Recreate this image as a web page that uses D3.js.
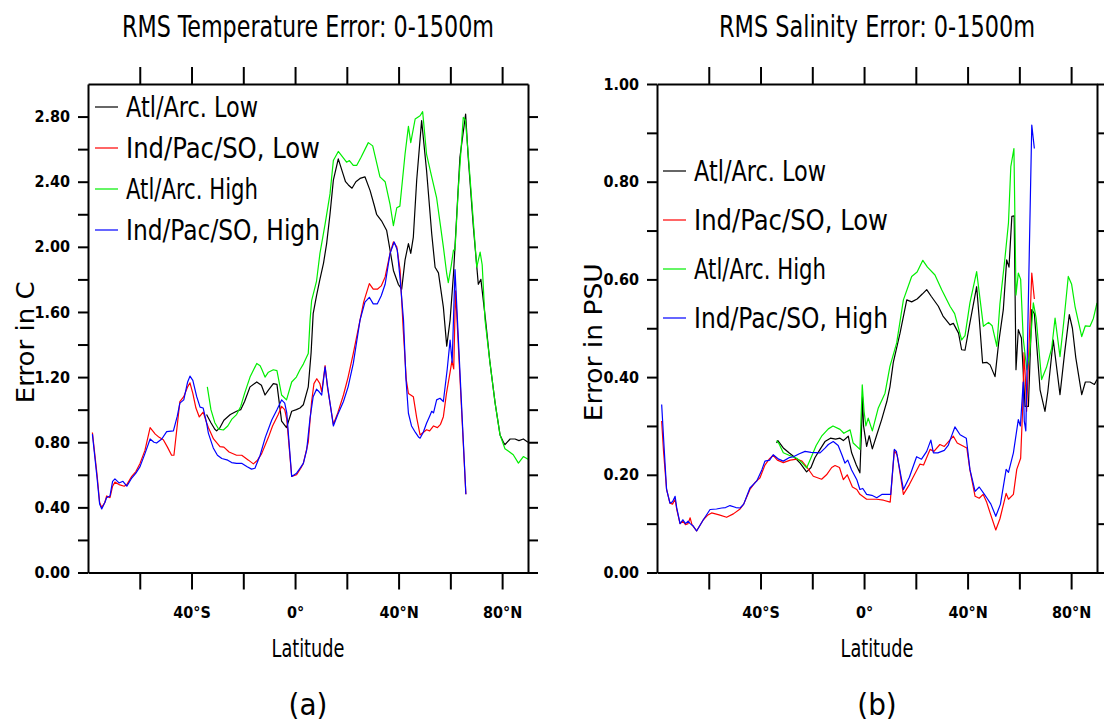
<!DOCTYPE html>
<html>
<head>
<meta charset="utf-8">
<script src="https://cdn.jsdelivr.net/npm/d3@7"></script>
<style>
  html, body { margin: 0; padding: 0; background: #fff; }
  svg { display: block; }
  text { font-family: "Liberation Sans Narrow", "DejaVu Sans Condensed", "DejaVu Sans", sans-serif; fill: #000; }
  .tick text { font-weight: bold; font-size: 16px; }
  .domain, .tick line { stroke: #000; stroke-width: 2px; }
</style>
</head>
<body>
<svg id="chart" width="1104" height="724"></svg>
<script>
// ── Data: [latitude, value] pairs ──────────────────────────────────────────

// Panel (a): RMS temperature error (°C)
const tempAtlLow = [
  [-34.2, 0.97], [-32.5, 0.92], [-31, 0.88], [-30.3, 0.87], [-29, 0.89], [-27.5, 0.935],
  [-25, 0.97], [-22.6, 0.99], [-21, 1.0], [-19.5, 1.05], [-17.4, 1.14], [-14.8, 1.17],
  [-13, 1.15], [-11.6, 1.09], [-10.3, 1.12], [-8.4, 1.16], [-7, 1.155], [-5.2, 0.93],
  [-3.3, 0.89], [-1.3, 0.99], [0.5, 1.0], [1.9, 1.01], [3.2, 1.03], [5.1, 1.14], [6.2, 1.35],
  [7, 1.59], [8.3, 1.7], [9.6, 1.8], [11, 1.9], [12.2, 2.02], [13.5, 2.2], [14.8, 2.41],
  [16.7, 2.54], [18.5, 2.45], [19.5, 2.4], [20.6, 2.38], [22, 2.36], [23.5, 2.4], [25.1, 2.42],
  [27, 2.43], [29, 2.345], [30.5, 2.26], [31.5, 2.2], [33.4, 2.16], [35.4, 2.1], [36.7, 1.98],
  [38, 1.855], [39.9, 1.77], [41.2, 1.74], [42.5, 1.92], [43.8, 2.02], [44.7, 1.96], [45.7, 2.06],
  [47, 2.41], [48.9, 2.775], [50.8, 2.47], [52.8, 2.08], [54.1, 1.875], [55.4, 1.84], [57.3, 1.63],
  [58.6, 1.39], [59.9, 1.55], [61.2, 1.83], [63.7, 2.55], [65.9, 2.815], [66.9, 2.55], [68.9, 2.12],
  [70.8, 1.77], [71.8, 1.8], [73.6, 1.55], [75.3, 1.29], [77.3, 1.04], [79.2, 0.845], [80.5, 0.8],
  [81.1, 0.785], [83.1, 0.82], [85, 0.82], [86.5, 0.81], [88.2, 0.82], [90, 0.8]
];
const tempIndPacLow = [
  [-78.3, 0.86], [-76.5, 0.6], [-75.5, 0.43], [-74.7, 0.4], [-73.5, 0.43], [-72.8, 0.47],
  [-71.5, 0.46], [-70.5, 0.53], [-69.6, 0.555], [-68, 0.54], [-66, 0.53], [-65, 0.54],
  [-63.1, 0.59], [-61.5, 0.62], [-59.9, 0.67], [-58, 0.75], [-56, 0.89], [-54, 0.85],
  [-52.5, 0.83], [-50.9, 0.815], [-49.3, 0.77], [-47.7, 0.72], [-46.8, 0.72], [-44.5, 1.05],
  [-43, 1.08], [-41.5, 1.14], [-40.6, 1.165], [-39.5, 1.1], [-38.3, 1.01], [-37, 0.955],
  [-35.5, 0.985], [-34.2, 0.92], [-33.5, 0.89], [-31.5, 0.82], [-29, 0.773], [-27.5, 0.77],
  [-25.5, 0.74], [-22.6, 0.72], [-20.6, 0.72], [-18, 0.69], [-16.1, 0.667], [-14.5, 0.69],
  [-12.9, 0.73], [-10.3, 0.83], [-8.7, 0.9], [-6.5, 0.97], [-5.2, 1.02], [-4, 1.0], [-3.2, 0.94],
  [-1.3, 0.59], [0.6, 0.6], [2.2, 0.64], [3.2, 0.67], [5.1, 0.8], [6.4, 1.05], [7.3, 1.16],
  [8.4, 1.19], [9.6, 1.16], [10.3, 1.11], [11.6, 1.27], [12.5, 1.14], [14.8, 0.91], [16.5, 0.98],
  [18.7, 1.09], [20.5, 1.2], [22.5, 1.345], [25.1, 1.55], [26.5, 1.66], [28.7, 1.774], [30.2, 1.74],
  [31.8, 1.74], [33.3, 1.76], [34.8, 1.815], [36.7, 1.96], [38, 2.03], [39.3, 2.0], [40.6, 1.855],
  [41.8, 1.49], [43, 1.18], [43.8, 1.1], [45.7, 1.08], [47, 0.95], [48.3, 0.845], [49.5, 0.86],
  [50.8, 0.877], [52, 0.87], [53.5, 0.9], [55, 0.89], [56.2, 0.91], [57.3, 0.957], [58.5, 1.1],
  [59.9, 1.23], [60.6, 1.3], [61.3, 1.25], [62, 1.73], [66, 0.48]
];
const tempAtlHigh = [
  [-33.9, 1.14], [-32.5, 1.0], [-31, 0.92], [-29.5, 0.88], [-27.7, 0.875], [-26, 0.9],
  [-24.5, 0.94], [-22.6, 0.97], [-21, 1.02], [-19.5, 1.1], [-17.4, 1.2], [-14.8, 1.284],
  [-13.5, 1.27], [-12.9, 1.25], [-11.6, 1.2], [-10.3, 1.23], [-8.4, 1.245], [-7, 1.24],
  [-5.2, 1.09], [-3.3, 1.06], [-1.3, 1.17], [0.5, 1.2], [1.9, 1.245], [3.2, 1.28], [5.1, 1.345],
  [5.8, 1.55], [6.4, 1.67], [8.3, 1.79], [9.6, 1.958], [11.6, 2.14], [13.5, 2.325], [14.8, 2.53],
  [16.7, 2.586], [18.5, 2.55], [19.9, 2.52], [21, 2.53], [22.5, 2.5], [23.8, 2.5], [25.5, 2.55],
  [28.3, 2.64], [30, 2.62], [32.8, 2.43], [34.8, 2.4], [36.7, 2.26], [38, 2.13], [39.3, 2.24],
  [40.5, 2.25], [42.5, 2.57], [43.8, 2.74], [44.7, 2.64], [46.4, 2.785], [48.3, 2.805], [49.3, 2.83],
  [50.8, 2.57], [52.8, 2.43], [54.7, 2.3], [56, 2.15], [57.3, 2.0], [58.6, 1.835], [59.2, 1.78],
  [60.3, 1.88], [61.2, 1.98], [61.8, 1.98], [63.1, 2.365], [65, 2.795], [65.8, 2.78], [66.9, 2.57],
  [68.2, 2.3], [70.2, 1.875], [71.5, 1.967], [72.3, 1.89], [73.4, 1.55], [75.3, 1.29], [77.3, 1.04],
  [79.2, 0.845], [81.1, 0.76], [82.5, 0.745], [84.3, 0.723], [86.3, 0.672], [88.2, 0.712], [90, 0.696]
];
const tempIndPacHigh = [
  [-78.3, 0.85], [-76.5, 0.58], [-75.5, 0.42], [-74.7, 0.39], [-73.5, 0.43], [-72.8, 0.46],
  [-71.5, 0.47], [-70.5, 0.56], [-69.6, 0.575], [-68, 0.55], [-66.5, 0.56], [-65, 0.53],
  [-63.1, 0.58], [-61.5, 0.61], [-59.9, 0.65], [-58, 0.73], [-56, 0.82], [-54.5, 0.8],
  [-53.5, 0.795], [-51.5, 0.82], [-49.6, 0.865], [-47, 0.87], [-45.5, 0.96], [-44.5, 1.04],
  [-43, 1.06], [-41.5, 1.17], [-40.6, 1.206], [-39.5, 1.18], [-38, 1.08], [-36.7, 1.016],
  [-35.5, 1.01], [-34.2, 0.92], [-33.5, 0.856], [-31.6, 0.765], [-30, 0.72], [-28.3, 0.7],
  [-26, 0.69], [-24.5, 0.675], [-22.6, 0.67], [-20.5, 0.67], [-18.5, 0.65], [-16.8, 0.635],
  [-15.5, 0.64], [-13.5, 0.72], [-11.5, 0.83], [-9, 0.937], [-7, 1.0], [-5.2, 1.06], [-4, 1.04],
  [-3.2, 0.98], [-1.3, 0.59], [0.6, 0.61], [1.9, 0.64], [3.2, 0.67], [4.5, 0.753], [5.8, 0.95],
  [7, 1.08], [8.3, 1.126], [9.3, 1.11], [10.3, 1.09], [11.6, 1.263], [12.5, 1.15], [14.8, 0.9],
  [16.5, 0.97], [18.7, 1.05], [20.5, 1.14], [22.5, 1.284], [25.1, 1.55], [27, 1.66], [28.7, 1.69],
  [30.2, 1.65], [31.8, 1.65], [33.3, 1.7], [34.8, 1.77], [36.7, 1.96], [38.3, 2.03], [39.5, 1.98],
  [40.6, 1.8], [41.9, 1.55], [42.8, 1.2], [43.8, 0.978], [45, 0.9], [46.5, 0.86], [47.8, 0.83],
  [48.3, 0.825], [49.5, 0.86], [50.8, 0.917], [52, 0.96], [52.8, 0.99], [53.5, 0.98], [54.7, 1.06],
  [56, 1.07], [57.3, 1.05], [58.8, 1.25], [59.9, 1.427], [60.7, 1.29], [61.8, 1.86], [66, 0.48]
];

// Panel (b): RMS salinity error (PSU)
const salAtlLow = [
  [-33.8, 0.265], [-33.3, 0.27], [-31.2, 0.255], [-29, 0.245], [-27.3, 0.238], [-24.7, 0.224],
  [-22.2, 0.206], [-20.5, 0.215], [-19, 0.235], [-17, 0.252], [-15.1, 0.268], [-13, 0.275],
  [-11, 0.273], [-9.3, 0.275], [-8, 0.27], [-6.1, 0.279], [-4.8, 0.245], [-3, 0.22], [-1.6, 0.204],
  [-1, 0.29], [-0.6, 0.36], [-0.2, 0.3], [1, 0.258], [2, 0.28], [3.2, 0.253], [4.8, 0.28],
  [6.8, 0.313], [8.8, 0.35], [10, 0.38], [11.3, 0.43], [13.9, 0.49], [16.5, 0.558], [18.4, 0.554],
  [20.5, 0.56], [22.5, 0.57], [24.2, 0.579], [26, 0.565], [28.7, 0.545], [30.5, 0.525], [33.2, 0.507],
  [34.5, 0.51], [36.5, 0.49], [37.7, 0.456], [39, 0.455], [40.9, 0.511], [43.5, 0.585], [44.5, 0.52],
  [45.8, 0.429], [47.5, 0.43], [48.7, 0.425], [50.6, 0.401], [52, 0.47], [53.8, 0.538], [55.1, 0.64],
  [56, 0.625], [57.1, 0.729], [58, 0.73], [58.7, 0.415], [59.6, 0.497], [60.8, 0.48], [62.2, 0.34],
  [63.5, 0.34], [64.8, 0.538], [65.8, 0.53], [68, 0.374], [69.9, 0.33], [71, 0.37], [73.1, 0.476],
  [75.7, 0.364], [77.5, 0.45], [79.3, 0.528], [80.5, 0.5], [81.8, 0.44], [84.1, 0.364], [85.5, 0.39],
  [87.3, 0.39], [89, 0.385], [90, 0.395]
];
const salIndPacLow = [
  [-78.2, 0.31], [-77.5, 0.25], [-76.3, 0.17], [-75, 0.142], [-74, 0.14], [-73, 0.15],
  [-72.4, 0.13], [-71.1, 0.1], [-70, 0.105], [-69, 0.098], [-68, 0.1], [-67.2, 0.112],
  [-66.5, 0.098], [-64.7, 0.085], [-62.1, 0.108], [-60.5, 0.117], [-58.9, 0.122], [-56, 0.118],
  [-53.1, 0.113], [-50.5, 0.12], [-47.9, 0.13], [-46.5, 0.14], [-44.1, 0.17], [-42, 0.185],
  [-40.2, 0.194], [-38.3, 0.22], [-36.5, 0.233], [-35.1, 0.24], [-33.5, 0.23], [-31.2, 0.225],
  [-28.5, 0.23], [-26, 0.232], [-24, 0.228], [-22, 0.215], [-19.6, 0.197], [-16.4, 0.191],
  [-14.5, 0.2], [-12.5, 0.215], [-11.2, 0.219], [-9.5, 0.215], [-8, 0.19], [-6.5, 0.2],
  [-4.5, 0.175], [-2.8, 0.17], [-1.6, 0.16], [1, 0.15], [4.9, 0.15], [7.5, 0.148], [10.1, 0.144],
  [11.7, 0.25], [12.8, 0.24], [15.2, 0.16], [17.5, 0.18], [21.6, 0.222], [23, 0.22], [25.5, 0.252],
  [27, 0.248], [29.3, 0.262], [31, 0.258], [34.5, 0.279], [36, 0.265], [39.7, 0.255], [40.9, 0.21],
  [42.9, 0.156], [44.5, 0.152], [46, 0.16], [47.3, 0.145], [48.7, 0.122], [50.9, 0.087],
  [52.5, 0.11], [54.9, 0.162], [55.8, 0.15], [57.7, 0.16], [59, 0.211], [60.5, 0.234], [61.3, 0.34],
  [61.8, 0.45], [62.3, 0.4], [62.8, 0.33], [64.8, 0.613], [65.8, 0.56]
];
const salAtlHigh = [
  [-33.8, 0.27], [-33, 0.265], [-31.2, 0.245], [-29, 0.24], [-26, 0.234], [-24, 0.225],
  [-22.2, 0.214], [-20.5, 0.235], [-18.5, 0.26], [-16.4, 0.279], [-13.8, 0.294], [-12, 0.3],
  [-9.3, 0.293], [-7.8, 0.285], [-6.8, 0.288], [-5.4, 0.292], [-4.2, 0.265], [-1.6, 0.252],
  [-0.7, 0.384], [0, 0.33], [0.7, 0.3], [1.6, 0.316], [3.2, 0.29], [5.5, 0.337], [8.1, 0.367],
  [10, 0.422], [12.6, 0.47], [15.2, 0.558], [18.4, 0.606], [20.5, 0.615], [22.7, 0.639],
  [24.5, 0.625], [27.4, 0.609], [30, 0.579], [33.2, 0.545], [35, 0.53], [37.7, 0.476], [39, 0.485],
  [40.9, 0.552], [43.5, 0.616], [44.8, 0.56], [46.1, 0.504], [48.1, 0.512], [49.5, 0.505],
  [51.3, 0.463], [52.5, 0.55], [54.5, 0.647], [55.8, 0.716], [56.7, 0.831], [57.9, 0.868],
  [58.7, 0.568], [59.6, 0.613], [60.5, 0.6], [61.5, 0.479], [62.9, 0.415], [64, 0.45], [65.4, 0.552],
  [66.5, 0.52], [68.6, 0.395], [70.5, 0.42], [72.5, 0.459], [73.8, 0.521], [75.7, 0.442],
  [77.3, 0.52], [78.9, 0.606], [80.2, 0.59], [81.5, 0.545], [84.1, 0.483], [85.5, 0.505],
  [87.3, 0.504], [88.6, 0.52], [90, 0.552]
];
const salIndPacHigh = [
  [-78.2, 0.344], [-77.3, 0.26], [-76.3, 0.17], [-75, 0.142], [-74, 0.145], [-73, 0.156],
  [-72.4, 0.133], [-71.1, 0.1], [-70, 0.108], [-69, 0.1], [-68, 0.105], [-67.2, 0.1], [-66, 0.095],
  [-64.7, 0.085], [-62.1, 0.108], [-59.5, 0.129], [-57, 0.13], [-55, 0.132], [-53.5, 0.133],
  [-51.8, 0.137], [-49.5, 0.133], [-47.9, 0.132], [-46.5, 0.14], [-44.1, 0.173], [-41.5, 0.187],
  [-39.5, 0.21], [-38.3, 0.228], [-36.5, 0.23], [-35.1, 0.241], [-33, 0.232], [-31.2, 0.228],
  [-29, 0.235], [-27.3, 0.237], [-25, 0.243], [-22.8, 0.248], [-20.5, 0.246], [-17, 0.245],
  [-15, 0.255], [-13.8, 0.262], [-11.9, 0.268], [-10, 0.26], [-8.5, 0.24], [-7.4, 0.224],
  [-6.3, 0.23], [-4.8, 0.21], [-2.8, 0.19], [-1.6, 0.17], [-0.5, 0.172], [1, 0.16], [3, 0.158],
  [4.9, 0.153], [7, 0.16], [10.3, 0.16], [11.7, 0.252], [12.5, 0.248], [15.2, 0.17], [17.5, 0.195],
  [20.3, 0.237], [22.2, 0.232], [24.2, 0.248], [25.8, 0.271], [26.8, 0.245], [28.5, 0.245],
  [31, 0.25], [32.5, 0.26], [33.5, 0.275], [35.1, 0.298], [37.1, 0.282], [39.5, 0.275],
  [40.9, 0.211], [42.9, 0.166], [44.5, 0.175], [46.5, 0.16], [47.4, 0.153], [49, 0.14],
  [50.9, 0.115], [52.7, 0.14], [54.9, 0.211], [55.8, 0.205], [57.7, 0.245], [59.6, 0.313],
  [60.4, 0.3], [61.5, 0.39], [61.9, 0.31], [62.5, 0.29], [64.8, 0.916], [65.8, 0.868]
];

// ── Labels, ticks, colours ─────────────────────────────────────────────────

const seriesNames  = ['Atl/Arc. Low', 'Ind/Pac/SO, Low', 'Atl/Arc. High', 'Ind/Pac/SO, High'];
const seriesColors = ['#000000', '#ff0000', '#00ee00', '#0000ff'];
const latTicks     = [-60, -40, -20, 0, 20, 40, 60, 80];
const latLabelled  = [-40, 0, 40, 80];
const tempTicks    = d3.range(0, 2.81, 0.2).map(v => +v.toFixed(1));
const tempLabelled = [0, 0.4, 0.8, 1.2, 1.6, 2.0, 2.4, 2.8];
const salTicks     = d3.range(0, 1.01, 0.1).map(v => +v.toFixed(1));
const salLabelled  = [0, 0.2, 0.4, 0.6, 0.8, 1.0];

// ── Layout ─────────────────────────────────────────────────────────────────

const svg = d3.select('#chart');
const TOP = 84, BOTTOM = 572.5;

const panels = [
  {
    left: 88, right: 528, yMax: 3.0,
    title: 'RMS Temperature Error: 0-1500m', titleW: 372,
    yTitle: 'Error in C', yTitleX: 25, yTitleW: 122,
    series: [tempAtlLow, tempIndPacLow, tempAtlHigh, tempIndPacHigh],
    yTicks: tempTicks, yLabelled: tempLabelled,
    legend: { x: 95, y0: 107, dy: 41 },
    tag: '(a)'
  },
  {
    left: 657, right: 1097, yMax: 1.0,
    title: 'RMS Salinity Error: 0-1500m', titleW: 316,
    yTitle: 'Error in PSU', yTitleX: 593, yTitleW: 158,
    series: [salAtlLow, salIndPacLow, salAtlHigh, salIndPacHigh],
    yTicks: salTicks, yLabelled: salLabelled,
    legend: { x: 663, y0: 171, dy: 49 },
    tag: '(b)'
  }
];

const fmtLat = d => d === 0 ? '0°' : Math.abs(d) + '°' + (d < 0 ? 'S' : 'N');

panels.forEach(p => {
  const x = d3.scaleLinear().domain([-80, 90]).range([p.left, p.right]);
  const y = d3.scaleLinear().domain([0, p.yMax]).range([BOTTOM, TOP]);
  const cx = (p.left + p.right) / 2;
  const g = svg.append('g');

  // Curves (drawn in legend order so blue sits over red, green over black)
  const line = d3.line().x(d => x(d[0])).y(d => y(d[1]));
  p.series.forEach((s, i) => {
    g.append('path')
      .attr('d', line(s))
      .attr('fill', 'none')
      .attr('stroke', seriesColors[i])
      .attr('stroke-width', 1.2)
      .attr('stroke-linejoin', 'round');
  });

  // Axes — all ticks point outward, labels only on bottom and left
  g.append('g').attr('transform', `translate(0,${BOTTOM})`)
    .call(d3.axisBottom(x).tickValues(latTicks).tickSize(17).tickSizeOuter(0).tickPadding(17)
      .tickFormat(d => latLabelled.includes(d) ? fmtLat(d) : ''));
  g.append('g').attr('transform', `translate(0,${TOP})`)
    .call(d3.axisTop(x).tickValues(latTicks).tickSize(17).tickSizeOuter(0).tickFormat(''));
  g.append('g').attr('transform', `translate(${p.left},0)`)
    .call(d3.axisLeft(y).tickValues(p.yTicks).tickSize(10).tickSizeOuter(0).tickPadding(8)
      .tickFormat(d => p.yLabelled.some(v => Math.abs(v - d) < 1e-6) ? d3.format('.2f')(d) : ''));
  g.append('g').attr('transform', `translate(${p.right},0)`)
    .call(d3.axisRight(y).tickValues(p.yTicks).tickSize(10).tickSizeOuter(0).tickFormat(''));
  g.selectAll('.tick text').attr('font-family', null);
  g.selectAll('.domain').attr('stroke-width', 2);

  // Titles
  g.append('text').attr('x', cx).attr('y', 37)
    .attr('text-anchor', 'middle').attr('font-size', 30)
    .attr('textLength', p.titleW).attr('lengthAdjust', 'spacingAndGlyphs')
    .text(p.title);
  g.append('text').attr('x', cx).attr('y', 657)
    .attr('text-anchor', 'middle').attr('font-size', 25)
    .attr('textLength', 73).attr('lengthAdjust', 'spacingAndGlyphs')
    .text('Latitude');
  g.append('text').attr('x', cx).attr('y', 715)
    .attr('text-anchor', 'middle').attr('font-size', 31)
    .text(p.tag);
  g.append('text')
    .attr('transform', `translate(${p.yTitleX + 9},${(TOP + BOTTOM) / 2 + 14}) rotate(-90)`)
    .attr('text-anchor', 'middle').attr('font-size', 24)
    .attr('textLength', p.yTitleW).attr('lengthAdjust', 'spacingAndGlyphs')
    .text(p.yTitle);

  // Legend
  seriesNames.forEach((name, i) => {
    const ly = p.legend.y0 + i * p.legend.dy;
    g.append('line')
      .attr('x1', p.legend.x).attr('x2', p.legend.x + 23)
      .attr('y1', ly).attr('y2', ly)
      .attr('stroke', seriesColors[i]).attr('stroke-width', 1.2);
    g.append('text')
      .attr('x', p.legend.x + 31).attr('y', ly + 10)
      .attr('font-size', 28)
      .attr('textLength', name.length > 13 ? 194 : 132)
      .attr('lengthAdjust', 'spacingAndGlyphs')
      .text(name);
  });
});
</script>
</body>
</html>
